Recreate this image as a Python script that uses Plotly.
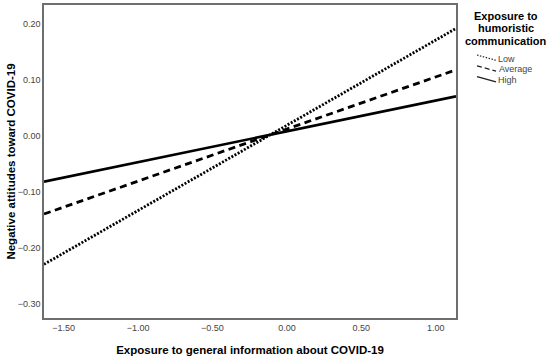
import plotly.graph_objects as go

# Data
x_vals = [-1.632, 1.136]
groups = ["Low", "Average", "High"]
low_vals = [-0.230, 0.192]
average_vals = [-0.140, 0.118]
high_vals = [-0.082, 0.0706]

x_ticks = [-1.5, -1.0, -0.5, 0.0, 0.5, 1.0]
y_ticks = [-0.3, -0.2, -0.1, 0.0, 0.1, 0.2]

legend_title_lines = ["Exposure to", "humoristic", "communication"]

series = [low_vals, average_vals, high_vals]
dashes = ["2px,1.6px", "7px,4.5px", "solid"]
widths = [2.8, 2.8, 2.6]

W, H = 550, 358
ML, MR, MT, MB = 44, 94, 5, 40
PW = W - ML - MR
PH = H - MT - MB


def px_x(px):
    return (px - ML) / PW


def px_y(py):
    return (H - MB - py) / PH


fig = go.Figure()
for name, vals, dash, w in zip(groups, series, dashes, widths):
    fig.add_trace(go.Scatter(
        x=x_vals, y=vals, mode="lines", name=name, showlegend=False,
        line=dict(color="black", width=w, dash=dash),
    ))

FONT = "Liberation Sans, Arial"
axis_common = dict(
    showgrid=False, zeroline=False, showline=True, mirror=True,
    linecolor="#6e6e6e", linewidth=1.5, ticks="", automargin=False,
    tickfont=dict(family=FONT, size=9, color="#444444"),
    tickformat=".2f",
)

# custom legend (SPSS-style diagonal keys)
annotations = []
for i, line in enumerate(legend_title_lines):
    annotations.append(dict(
        xref="paper", yref="paper", x=px_x(506), y=px_y(16 + i * 12.4),
        text=f"<b>{line}</b>", showarrow=False, xanchor="center", yanchor="middle",
        font=dict(family=FONT, size=11, color="black"),
    ))
shapes = []
key_width = [1.2, 1.3, 1.5]
for i, name in enumerate(groups):
    y0 = 55 + i * 10.8
    shapes.append(dict(
        type="line", xref="paper", yref="paper",
        x0=px_x(477), y0=px_y(y0), x1=px_x(496), y1=px_y(y0 + 5.3),
        line=dict(color="#222222", width=key_width[i],
                  dash=["1.5px,1.5px", "5px,3px", "solid"][i]),
    ))
    annotations.append(dict(
        xref="paper", yref="paper", x=px_x(496.5), y=px_y(59 + i * 10.5),
        text=name, showarrow=False, xanchor="left", yanchor="middle",
        font=dict(family=FONT, size=9, color="#444444"),
    ))

fig.update_layout(
    width=W, height=H,
    margin=dict(l=ML, r=MR, t=MT, b=MB, autoexpand=False),
    paper_bgcolor="white", plot_bgcolor="white",
    showlegend=False,
    xaxis=dict(range=[-1.632, 1.136], tickvals=x_ticks,
               title=dict(text="<b>Exposure to general information about COVID-19</b>",
                          font=dict(family=FONT, size=11.5, color="black"),
                          standoff=14),
               **axis_common),
    yaxis=dict(range=[-0.326, 0.234], tickvals=y_ticks,
               title=dict(text="<b>Negative attitudes toward COVID-19</b>",
                          font=dict(family=FONT, size=11.5, color="black"),
                          standoff=0),
               **axis_common),
    annotations=annotations,
    shapes=shapes,
)

fig.write_html("out.html", config={"displayModeBar": False},
               post_script="document.body.style.margin='0';document.body.style.overflow='hidden';")
